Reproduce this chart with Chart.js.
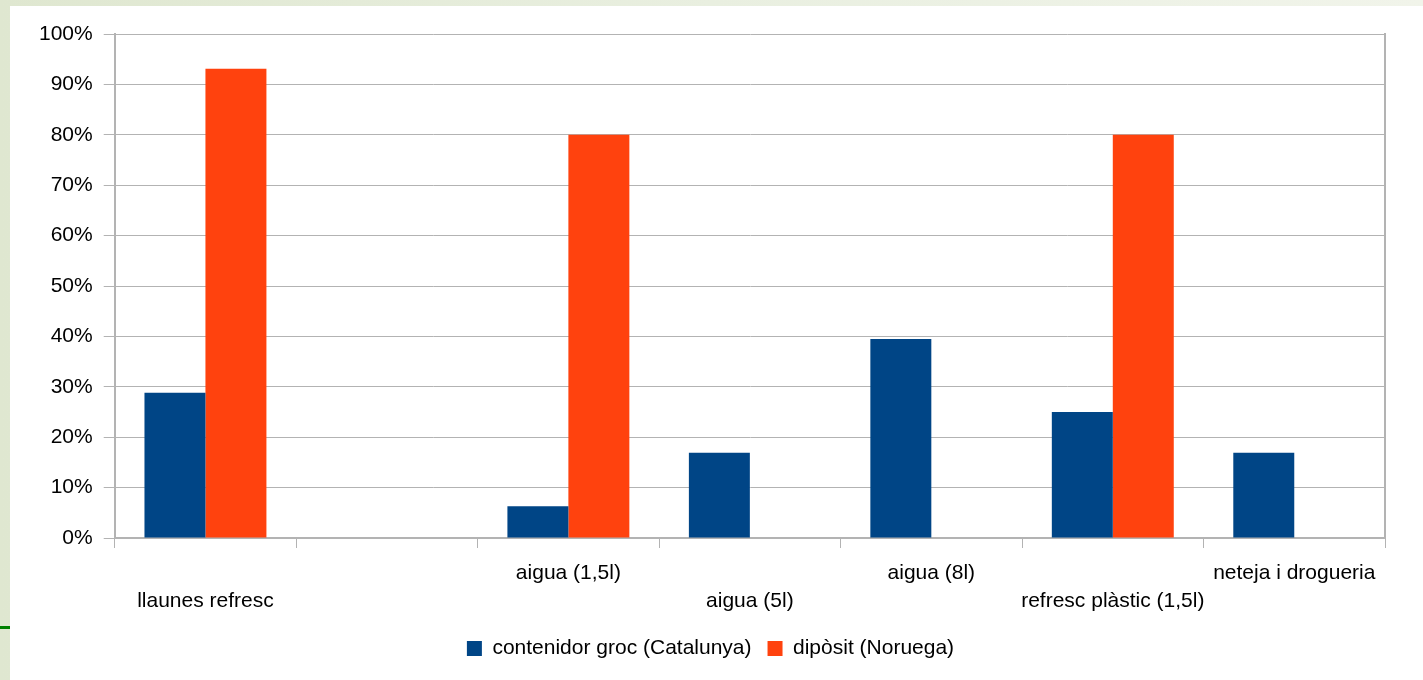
<!DOCTYPE html>
<html>
<head>
<meta charset="utf-8">
<script src="https://cdn.jsdelivr.net/npm/chart.js@4.4.1/dist/chart.umd.min.js"></script>
<style>
  html, body { margin: 0; padding: 0; }
  body {
    width: 1423px; height: 680px; overflow: hidden; position: relative;
    background: linear-gradient(90deg, #dfe7d0 0%, #e9efe0 50%, #f1f4ea 100%);
  }
  #panel {
    position: absolute; left: 10px; top: 6px; width: 1413px; height: 674px;
    background: #fff;
  }
  #mark {
    position: absolute; left: 0; top: 626px; width: 10px; height: 3px;
    background: #008000;
  }
</style>
</head>
<body>
<div id="mark"></div>
<div id="panel"><canvas id="chart"></canvas></div>
<script>
/* data */
const categories = [
  "llaunes refresc",
  "",
  "aigua (1,5l)",
  "aigua (5l)",
  "aigua (8l)",
  "refresc plàstic (1,5l)",
  "neteja i drogueria",
];
const seriesNames = ["contenidor groc (Catalunya)", "dipòsit (Noruega)"];
const catalunya = [28.8, null, 6.3, 16.9, 39.5, 25, 16.9];
const noruega   = [93.1, null, 80, null, null, 80, null];
const yTicks = [0, 10, 20, 30, 40, 50, 60, 70, 80, 90, 100];

const BLUE = "#004586";
const ORANGE = "#ff420e";
const LINE = "#b3b3b3";
const font = { family: "'Liberation Sans', Arial, sans-serif", size: 21, lineHeight: 28 / 21 };

const ctx = document.getElementById("chart").getContext("2d");

new Chart(ctx, {
  type: "bar",
  data: {
    labels: categories,
    datasets: [
      { label: seriesNames[0], data: catalunya, backgroundColor: BLUE, borderWidth: 0 },
      { label: seriesNames[1], data: noruega, backgroundColor: ORANGE, borderWidth: 0 },
    ],
  },
  options: {
    responsive: true,
    maintainAspectRatio: false,
    animation: false,
    layout: { padding: { left: 18, right: 30, top: 28, bottom: 11 } },
    datasets: { bar: { categoryPercentage: 0.672, barPercentage: 1 } },
    plugins: {
      tooltip: { enabled: false },
      legend: {
        position: "bottom",
        labels: { color: "#000", font, boxWidth: 15, boxHeight: 15, padding: 16 },
      },
    },
    scales: {
      x: {
        ticks: {
          color: "#000", font, padding: 11, autoSkip: false, maxRotation: 0,
          // staggered labels: the first one sits on the lower row,
          // after that even indexes go up and odd indexes go down
          callback: (v, i) => {
            const lab = categories[i];
            const lower = i === 0 || i % 2 === 1;
            return lower ? ["", lab] : [lab, ""];
          },
        },
        grid: { offset: true, drawOnChartArea: false, drawTicks: true, tickLength: 10, color: LINE, lineWidth: 1 },
        border: { display: true, color: LINE, width: 2 },
        afterFit: (scale) => { scale.height -= 4; },
      },
      y: {
        min: 0, max: 100,
        afterBuildTicks: (scale) => { scale.ticks = yTicks.map(v => ({ value: v })); },
        ticks: { color: "#000", font, padding: 11, callback: (v) => v + "%" },
        grid: { color: LINE, lineWidth: 1, tickLength: 11 },
        border: { display: true, color: LINE, width: 2 },
      },
      y2: {
        position: "right",
        min: 0, max: 100,
        ticks: { display: false },
        grid: { display: false },
        border: { display: true, color: LINE, width: 2 },
      },
    },
  },
});
</script>
</body>
</html>
